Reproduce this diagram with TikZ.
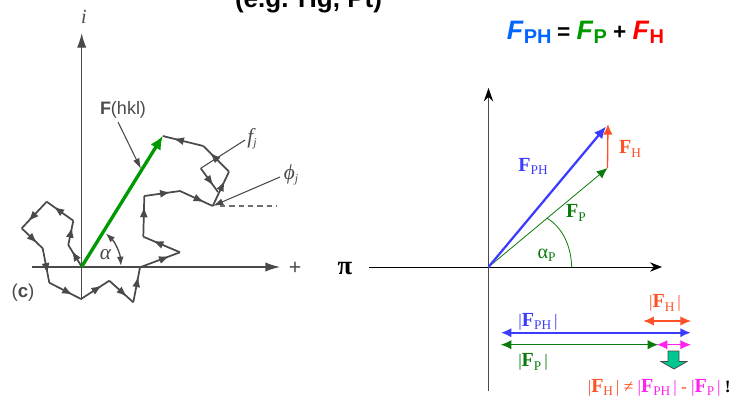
\documentclass[tikz,border=0pt]{standalone}
\usepackage{fontspec}
\setmainfont{Liberation Sans}
\newfontfamily\timesfont{Liberation Serif}
\usepackage{xcolor}
\usepackage{tikz}
\usetikzlibrary{arrows.meta,positioning,calc,decorations.markings}
\definecolor{ink}{HTML}{4A4A4A}
\definecolor{fgreen}{HTML}{0A7A0A}
\definecolor{fblue}{HTML}{3C3CFF}
\definecolor{fred}{HTML}{FF5028}
\definecolor{fpink}{HTML}{FF22EE}
\definecolor{tealbox}{HTML}{00C890}
\newcommand{\vecF}[2]{{\fontsize{#2}{#2}\selectfont\bfseries F}{\fontsize{10}{10}\selectfont\raisebox{-2.5pt}{#1}}}
\newcommand{\modF}[1]{|\vecF{#1}{15}\,|}
\newcommand{\headF}[1]{{\fontsize{20}{20}\selectfont\textit{F}}\raisebox{-3pt}{#1}}
\tikzset{
  chainseg/.style={ink,line width=1.3pt,decoration={markings,mark=at position 0.74 with {\arrow{Latex[length=8pt,width=6pt]}}},postaction={decorate}},
  greyline/.style={ink,line width=1pt},
  label/.style={inner sep=0pt,font=\timesfont\fontsize{13}{13}\selectfont},
  greylabel/.style={inner sep=0pt,text=ink},
  bar/.style={{Latex[length=8pt,width=7pt]}-{Latex[length=8pt,width=7pt]}}
}
\begin{document}
\begin{tikzpicture}[x=0.75pt,y=-0.75pt]
\useasboundingbox (0,0) rectangle (736,397);
\clip (0,0) rectangle (736,397);
% titles
\node[inner sep=0pt,anchor=base,font=\bfseries\fontsize{19.5}{20}\selectfont] (heading) at (308.5,7) {(e.g. Hg, Pt)};
\node[inner sep=0pt,anchor=base,font=\bfseries\fontsize{15}{15}\selectfont] (formula) at (585.5,39) {\textcolor[HTML]{0066FF}{\headF{PH}} \fontsize{17}{17}\selectfont= \textcolor[HTML]{009900}{\fontsize{15}{15}\selectfont\headF{P}} + \textcolor[HTML]{FF0000}{\fontsize{15}{15}\selectfont\headF{H}}};
% left diagram, axes
\coordinate (o) at (81.7,266.7);
\coordinate (xl) at (32,267); \coordinate (xr) at (280,267);
\coordinate (yb) at (81.7,300); \coordinate (yt) at (81.7,33);
\draw[greyline,-{Latex[length=11pt,width=7pt]}] (xl)--(xr);
\draw[greyline,-{Latex[length=11pt,width=7pt]}] (yb)--(yt);
% chain of atomic vectors
\foreach \p [count=\n from 0] in {(81.7,266.7),(68.3,245),(73.3,220.7),(46.7,201.7),(21.7,228.3),(42.7,248.3),(49.3,282.7),(81,299),(109.3,280.7),(133.3,302.3),(140,267.3),(180,252.3),(143.3,236.7),(144.3,196),(180,191),(212.7,206),(229,171.7),(203.3,146),(162.7,136)} \path \p coordinate (c\n);
\foreach \n [remember=\n as \m (initially 0)] in {1,...,18} \draw[chainseg] (c\m)--(c\n);
% small vector and pointers
\coordinate (sq) at (200.7,168.3); \coordinate (sqe) at (218,192);
\coordinate (fjp) at (245,140); \coordinate (phip) at (280,177); \coordinate (dashs) at (220,206); \coordinate (dashe) at (277,206);
\draw[chainseg] (sq)--(sqe);
\draw[ink,line width=0.8pt] (fjp)--(sq);
\draw[ink,line width=0.8pt,-{Latex[length=8pt,width=5pt]}] (phip)--(c15);
\draw[ink!80,line width=1pt,dash pattern=on 4pt off 3pt] (dashs)--(dashe);
% resultant
\draw[line width=2.5pt,color=green!60!black,-{Latex[length=10pt,width=9pt]}] (o)--(c18);
\coordinate (a1) at (121,266); \coordinate (a2) at (105.7,233.3);
\draw[greyline,{Latex[length=7pt,width=5pt]}-{Latex[length=7pt,width=5pt]}] (a1) .. controls (120,253) and (115,242) .. (a2);
\node[greylabel] (alpha) at (105.5,255) {\timesfont\itshape\fontsize{16}{16}\selectfont α};
\node[greylabel,font=\fontsize{13.5}{14}\selectfont] (hkl) at (123,110) {\textbf{F}(hkl)};
\coordinate (hkls) at (118,122); \coordinate (hklend) at (141,169);
\draw[ink,line width=0.8pt,-{Latex[length=8pt,width=5pt]}] (hkls)--(hklend);
\node[greylabel] (iaxis) at (84,17) {\timesfont\itshape\fontsize{15}{15}\selectfont i};
\node[greylabel,font=\fontsize{16}{16}\selectfont] (plus) at (295,268) {+};
\node[greylabel,font=\fontsize{14}{14}\selectfont] (cpanel) at (23,293) {(\textbf{c})};
\node[greylabel] (fj) at (252,139) {\timesfont\itshape\fontsize{16}{16}\selectfont f\raisebox{-2pt}{\fontsize{9}{9}\selectfont j}};
\node[greylabel] (phij) at (291,175) {\timesfont\itshape\fontsize{16}{16}\selectfont ϕ\raisebox{-2pt}{\fontsize{9}{9}\selectfont j}};
% right diagram, axes
\coordinate (O) at (488.5,267);
\coordinate (Xl) at (369,267); \coordinate (Xr) at (662,267);
\coordinate (Yb) at (488.5,391); \coordinate (Yt) at (488.5,88);
\draw[black,line width=0.7pt,-{Stealth[length=9pt,width=7pt]}] (Xl)--(Xr);
\draw[ink,line width=1pt,-{Stealth[length=10pt,width=7pt,color=black]}] (Yb)--(Yt);
\node[label,font=\timesfont\bfseries\fontsize{20}{20}\selectfont] (piaxis) at (345,269) {π};
% phasor triangle
\coordinate (PH) at (608,124); \coordinate (PHb) at (606,126.5); \coordinate (P) at (607.5,168);
\draw[fgreen,line width=0.6pt,-{Latex[length=8pt,width=7pt]}] (O)--(P);
\draw[fred,line width=1pt,-{Latex[length=8pt,width=7pt]}] (P)--(PH);
\draw[fblue,line width=1.7pt,-{Latex[length=9pt,width=8pt]}] (O)--(PHb);
\coordinate (b1) at (571.7,267); \coordinate (b2) at (546.7,218);
\draw[fgreen,line width=0.6pt] (b1) .. controls (571,245) and (562,227) .. (b2);
\node[label,text=fblue] (Fph) at (533,166.5) {\vecF{PH}{15}};
\node[label,text=fred] (Fh) at (630,149) {\vecF{H}{15}};
\node[label,text=fgreen] (Fp) at (576,213) {\vecF{P}{15}};
\node[label,text=fgreen,font=\timesfont\fontsize{15}{15}\selectfont] (aP) at (546.5,255) {α\raisebox{-2.5pt}{\fontsize{10}{10}\selectfont P}};
% magnitudes
\coordinate (h1) at (643.3,321); \coordinate (h2) at (691,321);
\coordinate (k1) at (500.7,332.7); \coordinate (k2) at (691,332.7);
\coordinate (p1) at (500.7,344.7); \coordinate (p2) at (658.3,344.7);
\coordinate (m1) at (656.7,344.7); \coordinate (m2) at (691,344.7);
\draw[bar,fred,line width=0.8pt] (h1)--(h2);
\draw[bar,fblue,line width=1.6pt] (k1)--(k2);
\draw[bar,fgreen,line width=0.9pt] (p1)--(p2);
\draw[bar,fpink,line width=0.9pt] (m1)--(m2);
\node[label,text=fred] (Hmod) at (665,303) {\modF{H}};
\node[label,text=fblue] (PHmod) at (538,321.5) {\modF{PH}};
\node[label,text=fgreen] (Pmod) at (533,362) {\modF{P}};
\draw[draw=ink,line width=0.6pt,fill=tealbox] (668,351)--(679,351)--(679,361.5)--(687,361.5)--(674,369)--(661,361.5)--(668,361.5)--cycle;
\node[label,anchor=base east] (result) at (731,392) {\textcolor{fred}{\modF{H} ≠} \textcolor{fpink}{\modF{PH}} \textcolor{fred}{-} \textcolor{fpink}{\modF{P}} \textbf{!}};
\end{tikzpicture}
\end{document}
